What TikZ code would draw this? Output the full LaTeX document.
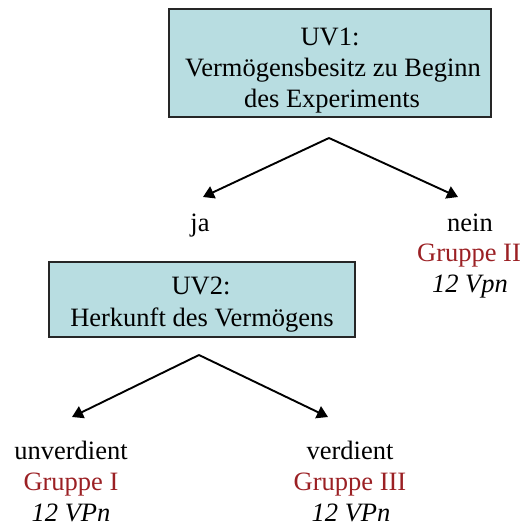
\documentclass[tikz,border=0pt]{standalone}
\usepackage{fontspec}
\setmainfont{Liberation Serif}
\usetikzlibrary{arrows.meta}
\definecolor{boxfill}{RGB}{184,221,225}
\definecolor{grpred}{RGB}{155,32,36}
\tikzset{
  vbox/.style={draw=black!85, fill=boxfill, line width=2pt, inner sep=0pt},
  lbl/.style={anchor=base, inner sep=0pt, font=\fontsize{26.5}{31}\selectfont},
  grp/.style={lbl, text=grpred},
  vpn/.style={lbl, font=\fontsize{26.5}{31}\selectfont\itshape},
  conn/.style={line width=1.9pt, -{Triangle[length=11pt,width=13pt]}}
}
\begin{document}
\begin{tikzpicture}[x=1pt,y=-1pt]
\useasboundingbox (0,0) rectangle (524,527);
% boxes
\node[vbox, minimum width=322pt, minimum height=108pt] (uv1) at (330,63) {};
\node[lbl] (uv1a) at (330,46) {UV1:};
\node[lbl] (uv1b) at (333,77) {Vermögensbesitz zu Beginn};
\node[lbl] (uv1c) at (332,107) {des Experiments};

\node[vbox, minimum width=306pt, minimum height=75pt] (uv2) at (202,299.5) {};
\node[lbl] (uv2a) at (201,294) {UV2:};
\node[lbl] (uv2b) at (202,326) {Herkunft des Vermögens};

% first level labels
\node[lbl] (ja) at (200,231) {ja};
\node[lbl] (nein) at (470,231) {nein};
\node[grp] (g2) at (469,261) {Gruppe II};
\node[vpn] (v2) at (470,292) {12 Vpn};

% second level labels
\node[lbl] (unv) at (71,459) {unverdient};
\node[grp] (g1) at (71,490) {Gruppe I};
\node[vpn] (v1) at (71,521) {12 VPn};
\node[lbl] (ver) at (350,459) {verdient};
\node[grp] (g3) at (350,490) {Gruppe III};
\node[vpn] (v3) at (351,521) {12 VPn};

% connectors
\coordinate (s1) at (329,138);
\coordinate (t1) at (203,197);
\coordinate (t2) at (458,197);
\draw[conn] (s1) -- (t1);
\draw[conn] (s1) -- (t2);
\coordinate (s2) at (199,355);
\coordinate (t3) at (72,417);
\coordinate (t4) at (328,417);
\draw[conn] (s2) -- (t3);
\draw[conn] (s2) -- (t4);
\end{tikzpicture}
\end{document}
